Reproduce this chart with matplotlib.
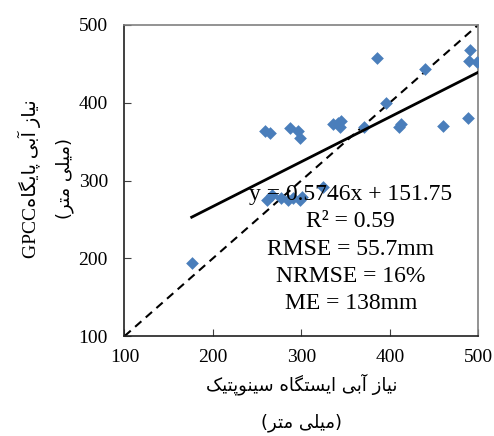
import numpy as np
import matplotlib
matplotlib.use('Agg')
from matplotlib import pyplot as plt

# -----------------------------
# داده ها: نیاز آبی ایستگاه سینوپتیک و پایگاه GPCC (میلی متر)
# -----------------------------
obs_synoptic = [176, 259, 265, 287, 296, 298,
                261, 267, 277, 285, 291, 298, 301, 324,
                336, 341, 345, 344, 371, 385, 396, 411, 413,
                440, 460, 489, 491, 490, 499]
gpcc = [194, 363, 361, 368, 363, 355,
        275, 282, 277, 275, 277, 275, 279, 292,
        373, 374, 376, 369, 369, 457, 399, 369, 372,
        443, 370, 380, 468, 454, 452]

slope, intercept = 0.5746, 151.75
ticks = [100, 200, 300, 400, 500]
stats_lines = ['y = 0.5746x + 151.75', 'R² = 0.59', 'RMSE = 55.7mm',
               'NRMSE = 16%', 'ME = 138mm']

# -----------------------------
# شکل دهی حروف فارسی (matplotlib اتصال حروف را انجام نمی دهد)
# -----------------------------
FORMS = {
    'ا': ('\uFE8D', '\uFE8E'), 'آ': ('\uFE81', '\uFE82'),
    'ز': ('\uFEAF', '\uFEB0'), 'ر': ('\uFEAD', '\uFEAE'),
    'و': ('\uFEED', '\uFEEE'),
    'ب': ('\uFE8F', '\uFE90', '\uFE91', '\uFE92'),
    'ت': ('\uFE95', '\uFE96', '\uFE97', '\uFE98'),
    'س': ('\uFEB1', '\uFEB2', '\uFEB3', '\uFEB4'),
    'ن': ('\uFEE5', '\uFEE6', '\uFEE7', '\uFEE8'),
    'ه': ('\uFEE9', '\uFEEA', '\uFEEB', '\uFEEC'),
    'م': ('\uFEE1', '\uFEE2', '\uFEE3', '\uFEE4'),
    'ل': ('\uFEDD', '\uFEDE', '\uFEDF', '\uFEE0'),
    'ی': ('\uFBFC', '\uFBFD', '\uFBFE', '\uFBFF'),
    'پ': ('\uFB56', '\uFB57', '\uFB58', '\uFB59'),
    'گ': ('\uFB92', '\uFB93', '\uFB94', '\uFB95'),
    'ک': ('\uFB8E', '\uFB8F', '\uFB90', '\uFB91'),
}


def fa(s):
    out = []
    for i, ch in enumerate(s):
        f = FORMS.get(ch)
        if f is None:
            out.append(ch)
            continue
        prev = s[i - 1] if i > 0 else ''
        nxt = s[i + 1] if i + 1 < len(s) else ''
        jp = prev in FORMS and len(FORMS[prev]) == 4
        jn = len(f) == 4 and nxt in FORMS
        if len(f) == 2:
            out.append(f[1] if jp else f[0])
        else:
            out.append(f[3] if (jp and jn) else f[1] if jp else f[2] if jn else f[0])
    vis = ''.join(out)[::-1]
    return vis.translate(str.maketrans('()', ')('))


plt.rcParams['font.family'] = ['Liberation Serif', 'DejaVu Sans']

fig = plt.figure(figsize=(4.94, 4.36), dpi=100)
ax = fig.add_axes([0.252, 0.229, 0.716, 0.714])

ax.plot(ticks, ticks, color='black', linestyle=(0, (4, 2.8)), linewidth=1.5)  # خط 1:1
ax.scatter(obs_synoptic, gpcc, marker='D', s=42, color='#4a7ebb', zorder=3, linewidths=0)

xfit = np.array([min(obs_synoptic), max(obs_synoptic)])
ax.plot(xfit, slope * xfit + intercept, color='black', linewidth=2, zorder=4)

ax.set_xlim(100, 500)
ax.set_ylim(100, 500)
ax.set_xticks(ticks)
ax.set_yticks(ticks)
ax.tick_params(direction='in', length=5, labelsize=14, color='#404040')
ax.tick_params(axis='y', pad=12)
ax.tick_params(axis='x', pad=9)
for s in ['top', 'right']:
    ax.spines[s].set_color('#808080')
for s in ['left', 'bottom']:
    ax.spines[s].set_color('#202020')
for s in ax.spines.values():
    s.set_linewidth(1.2)

ax.text(356, 295, '\n'.join(stats_lines), ha='center', va='top', fontsize=17,
        linespacing=1.38, zorder=5)

fig.text(0.61, 0.118, fa('نیاز آبی ایستگاه سینوپتیک'), ha='center', va='center',
         fontsize=13, family='DejaVu Sans')
fig.text(0.61, 0.03, fa('(میلی متر)'), ha='center', va='center',
         fontsize=13, family='DejaVu Sans')
fig.text(0.06, 0.59, 'GPCC' + fa('نیاز آبی پایگاه'), ha='center', va='center',
         rotation=90, fontsize=14, family=['Liberation Serif', 'DejaVu Sans'])
fig.text(0.13, 0.59, fa('(میلی متر)'), ha='center', va='center',
         rotation=90, fontsize=13, family='DejaVu Sans')

plt.savefig('out.png', dpi=100)
